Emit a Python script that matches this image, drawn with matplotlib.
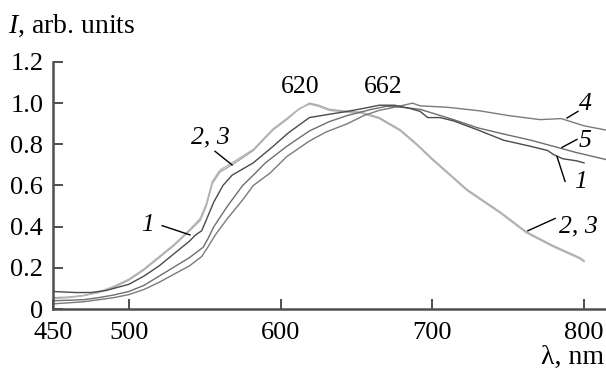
import numpy as np
import matplotlib
matplotlib.use("Agg")
import matplotlib.pyplot as plt

plt.rcParams['font.family'] = ['Liberation Serif', 'DejaVu Serif']
plt.rcParams['mathtext.fontset'] = 'custom'
plt.rcParams['mathtext.rm'] = 'Liberation Serif'
plt.rcParams['mathtext.it'] = 'Liberation Serif:italic'

######################## data ########################
wl1 = [450, 465, 475, 485, 500, 510, 520, 530, 540, 544, 548, 552, 556, 562, 568,
       582, 595, 605, 619, 632, 644, 655, 665, 675, 685, 692, 697, 705, 714, 730,
       747, 765, 776, 780, 786, 795, 800]
I1 = [0.085, 0.08, 0.08, 0.09, 0.12, 0.16, 0.21, 0.27, 0.33, 0.36, 0.38, 0.45, 0.52,
      0.60, 0.65, 0.71, 0.79, 0.855, 0.93, 0.946, 0.96, 0.975, 0.99, 0.99, 0.975,
      0.96, 0.93, 0.93, 0.914, 0.87, 0.82, 0.79, 0.77, 0.75, 0.73, 0.72, 0.71]

wl2 = [450, 460, 470, 480, 490, 500, 510, 520, 530, 540, 547, 551, 555, 560, 568,
       582, 595, 604, 612, 619, 625, 632, 645, 653, 665, 679, 690, 700, 723, 745,
       762, 779, 797, 800]
I2 = [0.055, 0.058, 0.065, 0.08, 0.105, 0.14, 0.19, 0.25, 0.31, 0.38, 0.43, 0.50,
      0.61, 0.665, 0.70, 0.77, 0.87, 0.92, 0.97, 1.0, 0.99, 0.97, 0.96, 0.956,
      0.93, 0.87, 0.80, 0.73, 0.58, 0.47, 0.375, 0.31, 0.25, 0.235]
I3 = [0.05, 0.055, 0.065, 0.082, 0.11, 0.145, 0.195, 0.255, 0.315, 0.385, 0.44,
      0.51, 0.62, 0.675, 0.71, 0.775, 0.875, 0.925, 0.972, 0.995, 0.985, 0.965,
      0.955, 0.952, 0.925, 0.865, 0.795, 0.725, 0.575, 0.465, 0.37, 0.305, 0.245, 0.23]

wl4 = [450, 470, 480, 490, 500, 510, 520, 530, 540, 548, 552, 557, 565, 575, 582,
       593, 604, 619, 630, 644, 655, 665, 675, 687, 692, 710, 731, 750, 771, 785,
       800, 814]
I4 = [0.025, 0.035, 0.045, 0.055, 0.07, 0.095, 0.13, 0.17, 0.21, 0.255, 0.30, 0.36,
      0.44, 0.53, 0.60, 0.66, 0.74, 0.816, 0.86, 0.90, 0.94, 0.965, 0.98, 1.0,
      0.987, 0.98, 0.963, 0.94, 0.92, 0.925, 0.89, 0.87]

wl5 = [450, 470, 480, 490, 500, 510, 520, 530, 540, 549, 552, 556, 565, 575, 582,
       590, 604, 619, 632, 644, 660, 670, 680, 692, 714, 730, 747, 765, 780, 795, 814]
I5 = [0.04, 0.045, 0.055, 0.068, 0.085, 0.115, 0.16, 0.205, 0.25, 0.30, 0.34, 0.40,
      0.50, 0.60, 0.65, 0.71, 0.79, 0.865, 0.91, 0.94, 0.97, 0.985, 0.98, 0.97,
      0.92, 0.88, 0.85, 0.82, 0.79, 0.76, 0.727]

xticks_v = [450, 500, 600, 700, 800]
yticks_v = [0, 0.2, 0.4, 0.6, 0.8, 1.0, 1.2]
ytick_lbl = ['0', '0.2', '0.4', '0.6', '0.8', '1.0', '1.2']

############################### plotting ###################################
fig = plt.figure(figsize=(6.06, 3.69), dpi=100)
ax = fig.add_axes([0.0875, 0.1626, 0.9125, 0.6694])

ax.plot(wl2, I2, color='#a8a8a8', lw=1.0)
ax.plot(wl2, I3, color='#b5b5b5', lw=1.0)
ax.plot(wl5, I5, color='#6e6e6e', lw=1.0)
ax.plot(wl4, I4, color='#7a7a7a', lw=1.0)
ax.plot(wl1, I1, color='#4a4a4a', lw=1.0)

ax.set_xlim(450, 814.5)
ax.set_ylim(0, 1.2)
for s in ['top', 'right']:
    ax.spines[s].set_visible(False)
for s in ['left', 'bottom']:
    ax.spines[s].set_linewidth(1.8)
    ax.spines[s].set_color('#505050')

ax.set_xticks(xticks_v)
ax.set_yticks(yticks_v)
ax.set_yticklabels(ytick_lbl)
ax.tick_params(direction='in', length=7, width=1.3, color='#404040',
               labelsize=19)
ax.tick_params(axis='x', pad=9)
ax.tick_params(axis='y', pad=7)

fig.text(0.013, 1 - 33 / 369, r'$I$, arb. units', fontsize=20, va='baseline')
fig.text(0.997, 1 - 364 / 369, u'\u03bb, nm', fontsize=20, va='baseline',
         ha='right')

# peak labels
ax.text(612.8, 1.078, '620', fontsize=18.5, ha='center', va='center')
ax.text(667.5, 1.078, '662', fontsize=18.5, ha='center', va='center')

# curve labels with leader lines
lbls = [('2, 3', (568, 0.70), (556.8, 0.766), (553.5, 0.834)),
        ('1', (540.3, 0.36), (521.9, 0.405), (512, 0.41)),
        ('4', (788.8, 0.928), (796, 0.96), (801, 0.995)),
        ('5', (785.5, 0.785), (795.4, 0.824), (801, 0.815)),
        ('1', (782.2, 0.741), (787.5, 0.62), (797.4, 0.615)),
        ('2, 3', (763, 0.38), (781, 0.44), (796, 0.40))]
for txt, p_end, p_start, p_txt in lbls:
    ax.plot([p_start[0], p_end[0]], [p_start[1], p_end[1]], color='black',
            lw=1.0, clip_on=False)
    ax.text(p_txt[0], p_txt[1], txt, fontsize=18.5, style='italic',
            ha='center', va='center', clip_on=False)

plt.savefig('out.png', dpi=100)
